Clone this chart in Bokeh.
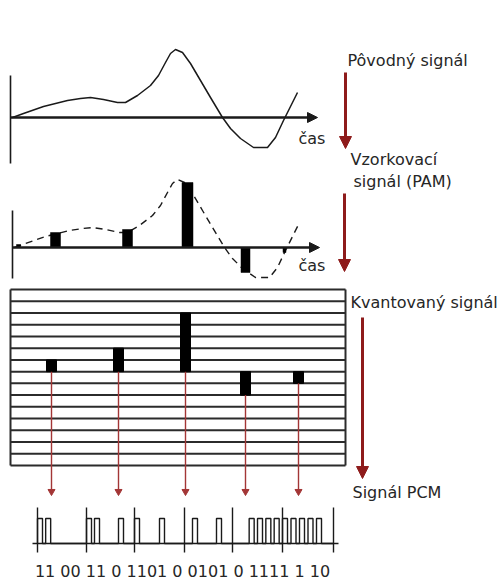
from bokeh.plotting import figure
from bokeh.models import Range1d, Arrow, NormalHead
from bokeh.embed import file_html
from bokeh.resources import INLINE
from bokeh.core.properties import value

# ---------------- data ----------------
# original analog signal: time offset along the axis, amplitude above the axis
SIGNAL_T = [2, 13, 33, 57, 70, 80, 93, 107, 115, 127, 140, 148, 155, 160, 165,
            172, 180, 190, 200, 212, 220, 230, 243, 257, 265, 273, 280, 287]
SIGNAL_A = [0, 4, 11, 17, 19, 20, 18, 15, 15, 22, 32, 42, 55, 64, 68,
            65, 54, 37, 20, 0, -11, -21, -30, -30, -20, -3, 11, 25]

# PAM samples
PAM_T = [6, 43, 115, 175, 233, 272]
PAM_A = [3, 15, 18, 65, -25, -5]
PAM_W = [4, 10, 10, 11, 9, 3]

# quantised samples (in quantisation steps)
QUANT_T = [41, 108, 175, 235, 288]
QUANT_LEVEL = [1, 2, 5, -2, -1]
N_STEPS = 15
ZERO_STEP = 7

# PCM code words
PCM_TICKS = [37, 86, 134, 184, 232, 282, 333]
PCM_WORDS = ["110000", "110010", "100100", "010010", "001111", "111110"]
PCM_LABEL = "11 00 11 0 1101 0 0101 0 1111 1 10"

LABEL_TEXT = ["Pôvodný signál", "Vzorkovací", "signál (PAM)",
              "Kvantovaný signál", "Signál PCM"]
TIME_LABEL = "čas"

# ---------------- layout / style ----------------
FONT = value("DejaVu Sans")
RED = "#8e1b1b"
RED_THIN = "#a33636"
INK = "#1a1a1a"
TXT = "#262626"

p = figure(width=502, height=581, x_range=Range1d(0, 502),
           y_range=Range1d(581, 0), output_backend="svg",
           toolbar_location=None, x_axis_location=None, y_axis_location=None,
           min_border=0, min_border_left=0, min_border_right=0,
           min_border_top=0, min_border_bottom=0)
p.grid.visible = False
p.outline_line_color = None
p.background_fill_color = "white"
p.border_fill_color = "white"

# ---- panel 1: original signal ----
X1, Y1 = 10, 117
p.segment(x0=[X1], y0=[75], x1=[X1], y1=[163], line_color=INK, line_width=1.6)
p.add_layout(Arrow(end=NormalHead(size=10, fill_color=INK, line_color=INK),
                   x_start=X1, y_start=Y1, x_end=317, y_end=Y1,
                   line_color=INK, line_width=2.5))
p.line([X1 + t for t in SIGNAL_T], [Y1 - a for a in SIGNAL_A],
       line_color=INK, line_width=1.5, line_join="round")

# ---- panel 2: PAM ----
X2, Y2 = 12, 247
p.segment(x0=[X2], y0=[210], x1=[X2], y1=[278], line_color=INK, line_width=1.6)
p.line([X2 + t for t in SIGNAL_T], [Y2 - a for a in SIGNAL_A],
       line_color=INK, line_width=1.4, line_dash="7 5")
p.vbar(x=[X2 + t for t in PAM_T], width=PAM_W, top=[Y2 - a for a in PAM_A],
       bottom=Y2, fill_color="black", line_color="black", line_width=0.5)
p.add_layout(Arrow(end=NormalHead(size=10, fill_color=INK, line_color=INK),
                   x_start=X2, y_start=Y2, x_end=319, y_end=Y2,
                   line_color=INK, line_width=2.5))

# ---- panel 3: quantisation grid ----
GX0, GX1, GY0, GY1 = 10, 345, 289, 465
step = (GY1 - GY0) / N_STEPS
levels = [GY0 + i * step for i in range(N_STEPS + 1)]
p.segment(x0=GX0, x1=GX1, y0=levels, y1=levels, line_color="#2b2b2b", line_width=2)
p.segment(x0=[GX0, GX1], x1=[GX0, GX1], y0=GY0, y1=GY1, line_color="#2b2b2b", line_width=2)
base = GY0 + ZERO_STEP * step
qx = [GX0 + t for t in QUANT_T]
qtop = [base - lv * step for lv in QUANT_LEVEL]
p.vbar(x=qx, width=10, top=qtop, bottom=base, fill_color="black", line_color="black")

# red arrows from quantised samples down to PCM
qstart = [max(base, y) for y in qtop]
p.segment(x0=qx, x1=qx, y0=qstart, y1=[489] * len(qx), line_color=RED_THIN, line_width=1.4)
p.scatter(x=qx, y=[491] * len(qx), marker="inverted_triangle", size=7,
          fill_color=RED_THIN, line_color=RED_THIN)

# ---- big process arrows ----
for xs, ys, ye in [(345, 72, 148), (344, 193, 271), (362, 317, 478)]:
    p.add_layout(Arrow(end=NormalHead(size=12, fill_color=RED, line_color=RED),
                       x_start=xs, y_start=ys, x_end=xs, y_end=ye,
                       line_color=RED, line_width=3))

# ---- PCM waveform ----
LOW, HIGH = 543, 518
p.segment(x0=[32], x1=[338], y0=[LOW], y1=[LOW], line_color=INK, line_width=1.4)
p.segment(x0=PCM_TICKS, x1=PCM_TICKS, y0=507, y1=552, line_color=INK, line_width=1.4)
wx, wy = [PCM_TICKS[0]], [LOW]
for i, word in enumerate(PCM_WORDS):
    s0, s1 = PCM_TICKS[i], PCM_TICKS[i + 1]
    slot = (s1 - s0) / len(word)
    for j, b in enumerate(word):
        if b == "1":
            a = s0 + j * slot
            wx += [a, a, a + 5, a + 5]
            wy += [LOW, HIGH, HIGH, LOW]
wx.append(PCM_TICKS[-1])
wy.append(LOW)
p.line(wx, wy, line_color=INK, line_width=1.4)

# ---- texts ----
p.text(x=[347, 350, 353, 350, 352], y=[60, 159, 181, 302, 492], text=LABEL_TEXT,
       text_font=FONT, text_font_size="16px", text_baseline="alphabetic",
       text_align="left", text_color=TXT)
p.text(x=[298, 298], y=[138, 265], text=[TIME_LABEL, TIME_LABEL],
       text_font=FONT, text_font_size="16px", text_baseline="alphabetic",
       text_align="left", text_color=TXT)
p.text(x=[(PCM_TICKS[0] + PCM_TICKS[-1]) / 2 - 3], y=[571], text=[PCM_LABEL],
       text_font=FONT, text_font_size="16px", text_baseline="alphabetic",
       text_align="center", text_color=TXT)

open("out.html", "w").write(file_html(p, INLINE))
